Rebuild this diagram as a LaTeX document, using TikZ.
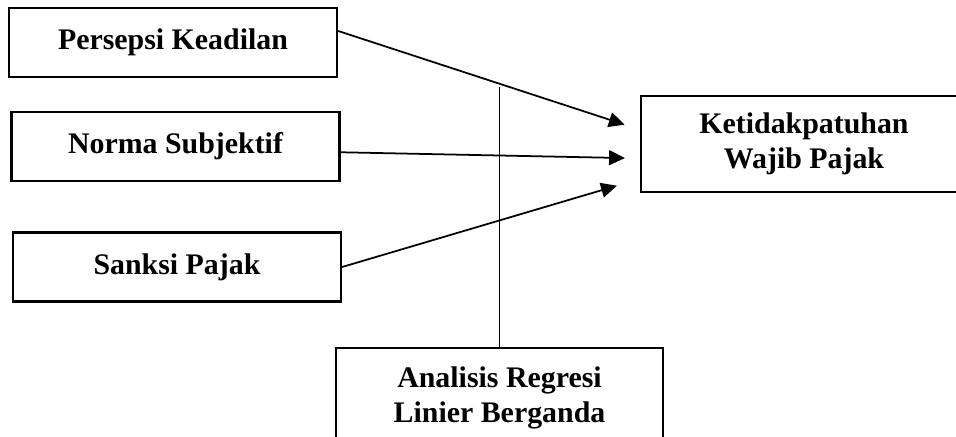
\documentclass[tikz,border=0pt]{standalone}
\usepackage{fontspec}
\setmainfont{Liberation Serif}
\usetikzlibrary{arrows.meta, positioning, calc}

\begin{document}
\begin{tikzpicture}[
    every node/.style={font=\bfseries\fontsize{17}{20}\selectfont},
    var/.style={draw, line width=1.25pt, minimum width=6.56cm, minimum height=1.38cm,
                inner sep=2pt, align=center},
    dep/.style={var, minimum width=6.52cm, minimum height=1.92cm},
    method/.style={var, minimum width=6.54cm, minimum height=2.0cm},
    arr/.style={-{Triangle[length=9pt, width=8.5pt]}, line width=1pt},
    link/.style={line width=1pt},
]
    \useasboundingbox (0,0) rectangle (19.12,-8.72);
    \clip (0,0) rectangle (19.12,-8.72);

    % Independent variables.
    \node[var] (pk) at (3.46,-0.85) {Persepsi Keadilan};
    \node[var] (ns) at (3.51,-2.93) {Norma Subjektif};
    \node[var] (sp) at (3.54,-5.34) {Sanksi Pajak};

    % Dependent variable.
    \node[dep] (kwp) at (16.08,-2.88) {Ketidakpatuhan\\Wajib Pajak};

    % Analysis method.
    \node[method] (arb) at (9.99,-7.96) {Analisis Regresi\\Linier Berganda};
    \coordinate (arbtop) at (arb.north |- 0,-1.74);

    % Flow arrows.
    \draw[arr, shorten >=0.32cm] (pk.4) -- (kwp.175);
    \draw[arr, shorten >=0.30cm] (ns.-2) -- (kwp.185);
    \draw[arr, shorten >=0.48cm] (sp.east) -- (kwp.192);
    \draw[link] (arb.north) -- (arbtop);
\end{tikzpicture}
\end{document}
